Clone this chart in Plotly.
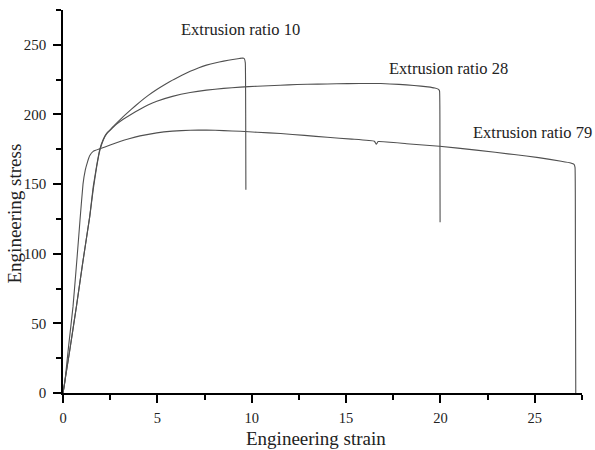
import plotly.graph_objects as go

# Extrusion ratio 10
er10_strain = [0, 0.35, 0.71, 1.05, 1.42, 1.6, 1.78, 1.95, 2.13, 2.31, 2.6, 2.84, 3.19, 3.6, 4.08, 4.5, 4.97, 5.4, 5.85, 6.3, 6.74, 7.2, 7.6, 8.05, 8.51, 9.0, 9.35, 9.52, 9.61, 9.66, 9.68, 9.69]
er10_stress = [0, 30, 62, 94, 127, 148, 163, 175, 182, 186.5, 190.5, 193.8, 198.5, 203.5, 209, 213.5, 217.9, 221.5, 225, 228.2, 231, 233.6, 235.4, 237.0, 238.3, 239.5, 240.2, 240.5, 240, 237, 200, 146]

# Extrusion ratio 28
er28_strain = [0, 0.35, 0.71, 1.05, 1.42, 1.6, 1.78, 1.95, 2.13, 2.31, 2.6, 2.84, 3.19, 3.6, 4.08, 4.5, 4.97, 5.8, 6.74, 7.6, 8.51, 9.4, 10.29, 11.5, 12.4, 13.5, 14.5, 15.7, 16.84, 17.8, 18.6, 19.33, 19.7, 19.88, 19.95, 19.97, 19.98]
er28_stress = [0, 30, 62, 94, 127, 146, 162, 174, 181.5, 186, 190, 193, 196.5, 200, 203.8, 206.8, 209.5, 213, 215.8, 217.5, 218.7, 219.6, 220.3, 221.0, 221.5, 221.8, 222.0, 222.2, 222.2, 221.6, 220.8, 219.8, 219.0, 218.2, 217, 200, 122.6]

# Extrusion ratio 79
er79_strain = [0, 0.09, 0.3, 0.53, 0.75, 0.9, 1.06, 1.18, 1.3, 1.42, 1.6, 1.95, 2.5, 3.02, 3.5, 4.08, 4.97, 5.8, 6.74, 7.6, 8.51, 9.4, 10.29, 11.53, 12.8, 14.0, 15.3, 16.5, 16.6, 16.7, 18.2, 19.95, 21.9, 23.9, 25.2, 26.4, 26.9, 27.08, 27.13, 27.15, 27.17]
er79_stress = [0, 7, 34, 62, 98, 124, 150, 160, 166, 170.5, 173.5, 175.3, 178.0, 180.6, 182.6, 184.6, 186.8, 188.0, 188.7, 188.8, 188.4, 187.9, 187.2, 186.3, 185.0, 183.6, 182.3, 180.8, 178.6, 180.5, 179.0, 177.2, 174.4, 171.2, 169.0, 166.4, 165.2, 164.2, 162, 100, 0]

series_names = ["Extrusion ratio 10", "Extrusion ratio 28", "Extrusion ratio 79"]
label_x = [9.43, 20.45, 24.9]
label_y = [261, 232.8, 186.8]

x_ticks = [0, 5, 10, 15, 20, 25]
y_ticks = [0, 50, 100, 150, 200, 250]

FONT = "Liberation Serif"
line_col = "#505050"

W, H = 595, 450
ml, mr, mt, mb = 63.3, 13.3, 10, 56.7
pw, ph = W - ml - mr, H - mt - mb

fig = go.Figure()
for xs, ys, nm in [(er10_strain, er10_stress, series_names[0]),
                   (er28_strain, er28_stress, series_names[1]),
                   (er79_strain, er79_stress, series_names[2])]:
    fig.add_trace(go.Scatter(x=xs, y=ys, mode="lines", name=nm,
                             line=dict(color=line_col, width=1.1, shape="spline", smoothing=0.3),
                             showlegend=False, hoverinfo="skip"))

for nm, lx, ly in zip(series_names, label_x, label_y):
    fig.add_annotation(x=lx, y=ly, xref="x", yref="y", text=nm, showarrow=False,
                       xanchor="center", yanchor="middle",
                       font=dict(family=FONT, size=16.5, color="#222"))

# axis titles placed at pixel positions (converted to paper coordinates)
fig.add_annotation(x=(316 - ml) / pw, y=(H - mb - 438.5) / ph, xref="paper", yref="paper",
                   text="Engineering strain", showarrow=False, xanchor="center", yanchor="middle",
                   font=dict(family=FONT, size=19, color="#222"))
fig.add_annotation(x=(15 - ml) / pw, y=(H - mb - 214) / ph, xref="paper", yref="paper",
                   text="Engineering stress", showarrow=False, textangle=-90,
                   xanchor="center", yanchor="middle",
                   font=dict(family=FONT, size=19, color="#222"))

axis_common = dict(showgrid=False, zeroline=False, showline=True, linecolor="black", linewidth=1.5,
                   ticks="outside", ticklen=8, tickwidth=1.5, tickcolor="black")

fig.update_layout(
    width=W, height=H,
    margin=dict(l=ml, r=mr, t=mt, b=mb, autoexpand=False),
    paper_bgcolor="white", plot_bgcolor="white",
    xaxis=dict(range=[0, 27.5], tickvals=x_ticks,
               minor=dict(dtick=2.5, tick0=0, ticks="outside", ticklen=5, tickwidth=1.5, tickcolor="black"),
               ticklabelstandoff=3, tickfont=dict(family=FONT, size=14.5, color="#222"), **axis_common),
    yaxis=dict(range=[0, 275], tickvals=y_ticks,
               minor=dict(dtick=25, tick0=0, ticks="outside", ticklen=5, tickwidth=1.5, tickcolor="black"),
               ticklabelstandoff=4, tickfont=dict(family=FONT, size=15, color="#222"), **axis_common),
)

fig.write_html("out.html", config={"displayModeBar": False},
               post_script="document.body.style.margin='0';document.body.style.overflow='hidden';")
